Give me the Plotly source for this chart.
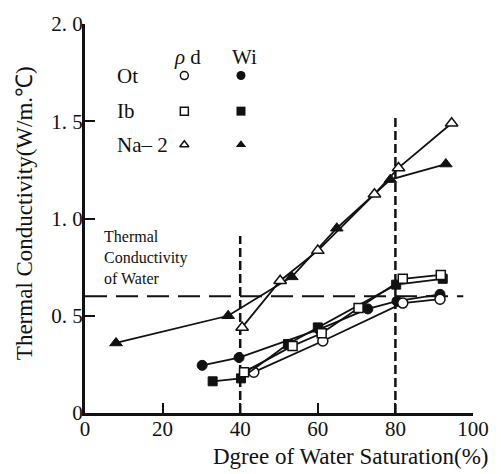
import plotly.graph_objects as go

# Degree of water saturation (%) and thermal conductivity (W/m.°C)
ot_rho_x = [43.5, 61.3, 81.9, 91.5]
ot_rho_y = [0.21, 0.37, 0.565, 0.585]
ot_wi_x = [30.2, 39.7, 60.3, 72.9, 80.4, 91.5]
ot_wi_y = [0.245, 0.285, 0.43, 0.535, 0.575, 0.61]

ib_rho_x = [41.0, 53.5, 61.0, 70.5, 81.9, 91.7]
ib_rho_y = [0.21, 0.345, 0.41, 0.54, 0.69, 0.71]
ib_wi_x = [32.9, 40.2, 52.3, 60.0, 80.2, 92.2]
ib_wi_y = [0.163, 0.178, 0.355, 0.44, 0.66, 0.69]

na_rho_x = [40.5, 50.3, 60.0, 74.6, 80.8, 94.5]
na_rho_y = [0.44, 0.68, 0.835, 1.125, 1.26, 1.49]
na_wi_x = [8.0, 36.9, 53.3, 64.9, 78.7, 93.0]
na_wi_y = [0.36, 0.50, 0.70, 0.95, 1.20, 1.28]

water_k = 0.6
sat_bounds = [40, 80]
bound_tops = [0.91, 1.53]

x_ticks = [0, 20, 40, 60, 80, 100]
x_ticktext = ["0", "20", "40", "60", "80", "100"]
y_ticks = [0, 0.5, 1.0, 1.5, 2.0]
y_ticktext = ["0", "0. 5", "1. 0", "1. 5", "2. 0"]

series_names = ["Ot", "Ib", "Na\u2013 2"]
series_symbols = ["circle", "square", "triangle-up"]

FONT = "Liberation Serif, Times New Roman, serif"
BLACK = "#111111"

fig = go.Figure()

# reference lines: water conductivity and saturation bounds
fig.add_trace(go.Scatter(x=[0, 97.5], y=[water_k, water_k], mode="lines",
                         line=dict(color=BLACK, width=2, dash="22px,9px"),
                         showlegend=False, hoverinfo="skip"))
for xb, top in zip(sat_bounds, bound_tops):
    fig.add_trace(go.Scatter(x=[xb, xb], y=[0, top], mode="lines",
                             line=dict(color=BLACK, width=2.5, dash="9px,4px"),
                             showlegend=False, hoverinfo="skip"))

data = [
    (ot_rho_x, ot_rho_y, ot_wi_x, ot_wi_y, "circle", 10),
    (ib_rho_x, ib_rho_y, ib_wi_x, ib_wi_y, "square", 9),
    (na_rho_x, na_rho_y, na_wi_x, na_wi_y, "triangle-up", 11),
]

for rx, ry, wx, wy, sym, sz in data:
    fig.add_trace(go.Scatter(x=wx, y=wy, mode="lines+markers",
                             line=dict(color=BLACK, width=1.8),
                             marker=dict(symbol=sym, size=sz, color=BLACK,
                                         line=dict(color=BLACK, width=1)),
                             showlegend=False))
    fig.add_trace(go.Scatter(x=rx, y=ry, mode="lines+markers",
                             line=dict(color=BLACK, width=1.8),
                             marker=dict(symbol=sym, size=sz, color="white",
                                         line=dict(color=BLACK, width=1.5)),
                             showlegend=False))

# key: rows of names with open (rho d) and filled (Wi) symbols
key_rows_y = [1.735, 1.552, 1.379]
for name, sym, ky in zip(series_names, series_symbols, key_rows_y):
    fig.add_trace(go.Scatter(x=[25.6], y=[ky], mode="markers",
                             marker=dict(symbol=sym, size=8, color="white",
                                         line=dict(color=BLACK, width=1.5)),
                             showlegend=False, hoverinfo="skip"))
    fig.add_trace(go.Scatter(x=[40.2], y=[ky], mode="markers",
                             marker=dict(symbol=sym, size=9, color=BLACK),
                             showlegend=False, hoverinfo="skip"))
    fig.add_annotation(x=7.8, y=ky, text=name, showarrow=False, xanchor="left",
                       yanchor="middle", font=dict(family=FONT, size=21, color=BLACK))

fig.add_annotation(x=26.4, y=1.83, text="<i>\u03c1</i> d", showarrow=False,
                   xanchor="center", yanchor="middle",
                   font=dict(family=FONT, size=21, color=BLACK))
fig.add_annotation(x=41.0, y=1.83, text="Wi", showarrow=False,
                   xanchor="center", yanchor="middle",
                   font=dict(family=FONT, size=21, color=BLACK))

fig.add_annotation(x=4.3, y=0.80, text="Thermal<br>Conductivity<br>of Water",
                   showarrow=False, xanchor="left", yanchor="middle", align="left",
                   font=dict(family=FONT, size=16, color=BLACK))

# axis titles
fig.add_annotation(xref="paper", yref="paper", x=-0.156, y=0.515,
                   xanchor="center", yanchor="middle",
                   text="Thermal Conductivity(W/m.\u2103)", textangle=-90,
                   showarrow=False, font=dict(family=FONT, size=23, color=BLACK))
fig.add_annotation(xref="paper", yref="paper", x=0.685, y=-0.112,
                   xanchor="center", yanchor="middle",
                   text="Dgree of Water Saturation(%)", showarrow=False,
                   font=dict(family=FONT, size=23, color=BLACK))

axis_common = dict(showline=True, linecolor=BLACK, linewidth=3, ticks="inside",
                   ticklen=10, tickwidth=2, tickcolor=BLACK, showgrid=False,
                   zeroline=False, tickfont=dict(family=FONT, size=21, color=BLACK))

fig.update_layout(
    width=501, height=474,
    margin=dict(l=85, r=18, t=20, b=61),
    paper_bgcolor="white", plot_bgcolor="white",
    xaxis=dict(range=[0, 100], tickvals=x_ticks, ticktext=x_ticktext,
               ticklabelstandoff=-5, **axis_common),
    yaxis=dict(range=[0, 2.0], tickvals=y_ticks, ticktext=y_ticktext,
               ticklabelstandoff=-5, **axis_common),
    showlegend=False,
)

fig.write_html("out.html")
